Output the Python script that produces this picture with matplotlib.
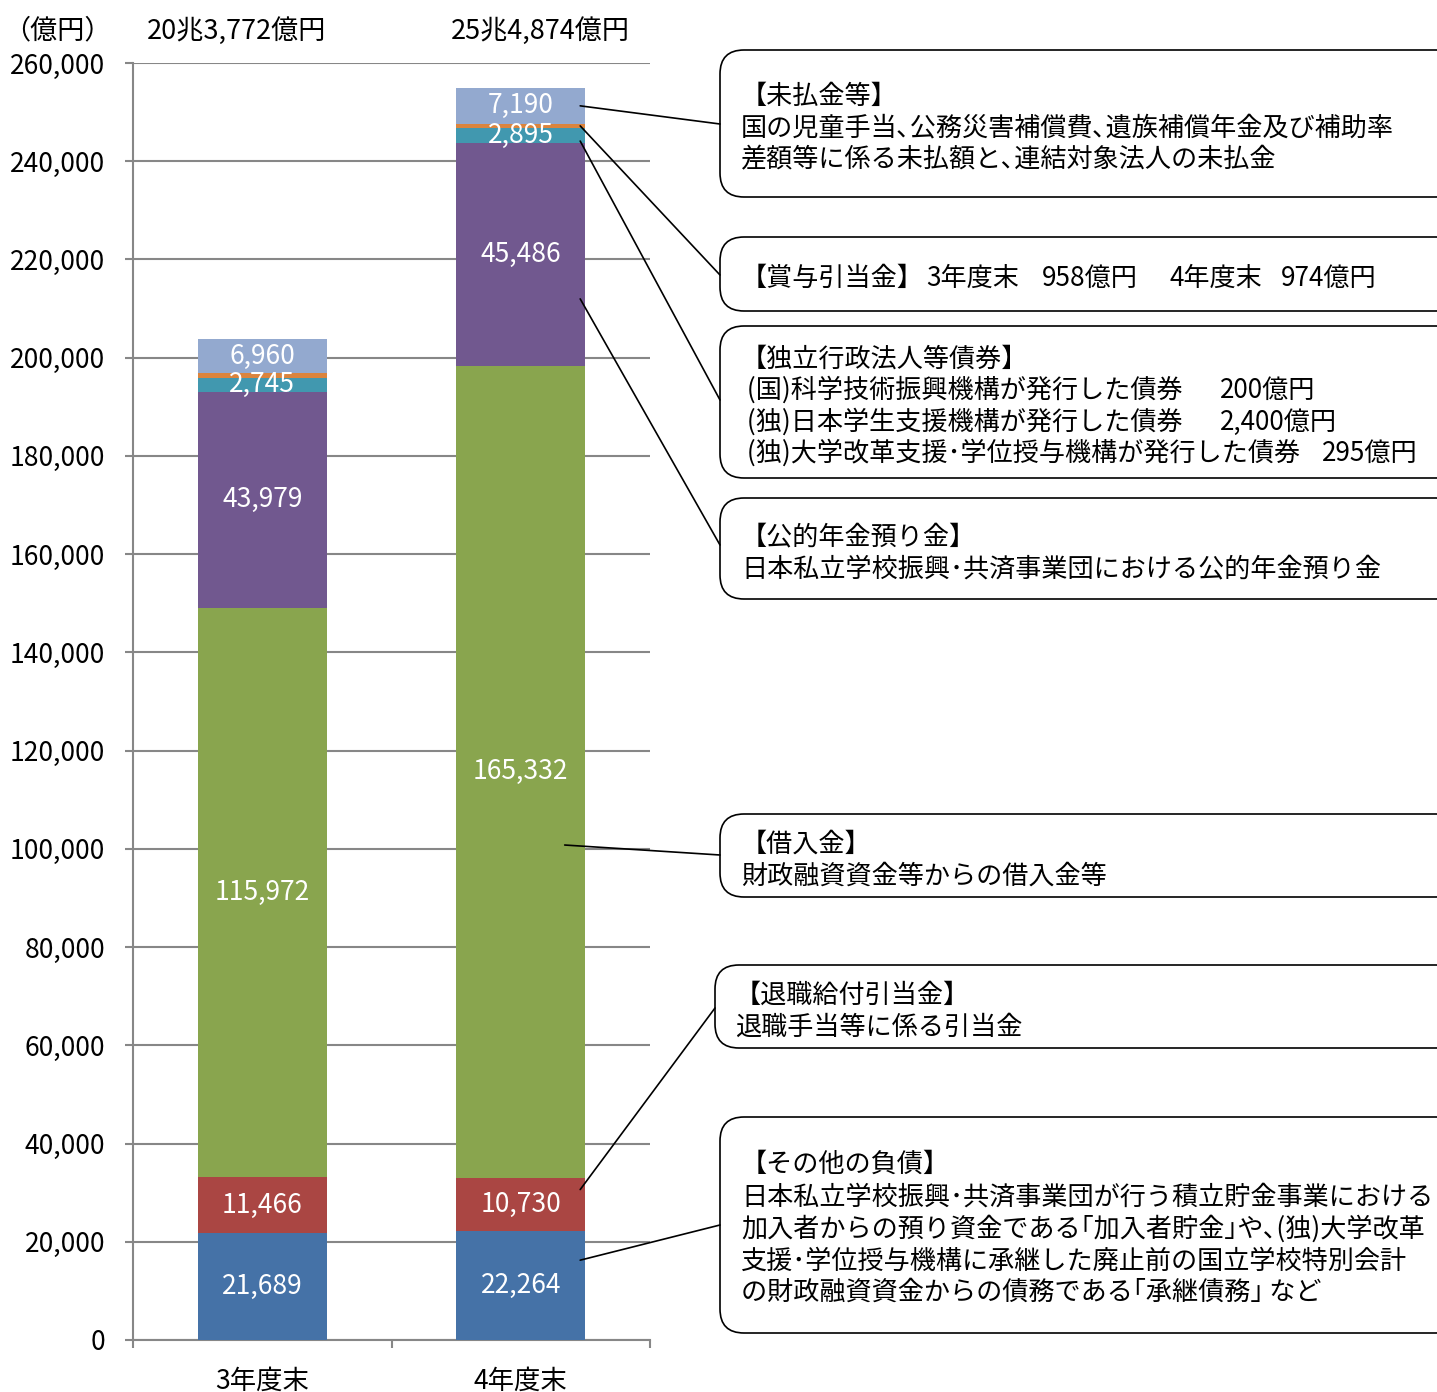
import matplotlib
matplotlib.use('Agg')
import matplotlib.pyplot as plt
from matplotlib.patches import FancyBboxPatch
import numpy as np

plt.rcParams['font.family'] = ['Noto Sans CJK JP', 'DejaVu Sans']

# ---------------- data ----------------
categories = ['3年度末', '4年度末']
series_names = ['その他の負債', '退職給付引当金', '借入金', '公的年金預り金',
                '独立行政法人等債券', '賞与引当金', '未払金等']
other = [21689, 22264]
retire = [11466, 10730]
loans = [115972, 165332]
pension = [43979, 45486]
bonds = [2745, 2895]
bonus = [958, 974]
unpaid = [6960, 7190]
totals_text = ['20兆3,772億円', '25兆4,874億円']
unit_text = '（億円）'
yticks = list(range(0, 260001, 20000))

series = [other, retire, loans, pension, bonds, bonus, unpaid]
colors = ['#4572A7', '#AA4643', '#89A54E', '#71588F', '#4198AF', '#DB843D', '#93A9CF']
show_label = [True, True, True, True, True, False, True]

# ---------------- figure ----------------
W, H = 1437, 1392
fig = plt.figure(figsize=(W / 100, H / 100), dpi=100)
ax = fig.add_axes([133 / W, 52 / H, 517 / W, 1277 / H])
FS = 18.8
GRAY = '#878787'

x = np.arange(len(categories))
bottom = np.zeros(len(categories))
bottoms = []
for vals, col, lab in zip(series, colors, show_label):
    vals = np.array(vals, dtype=float)
    ax.bar(x, vals, bottom=bottom, width=0.5, color=col, zorder=3)
    bottoms.append(bottom.copy())
    if lab:
        for xi, b, v in zip(x, bottom, vals):
            ax.text(xi, b + v / 2, f'{int(v):,}', ha='center', va='center',
                    color='white', fontsize=19, zorder=4)
    bottom = bottom + vals

ax.set_xlim(-0.5, 1.5)
ax.set_ylim(0, 260000)
ax.set_yticks(yticks)
ax.set_yticklabels([f'{v:,}' for v in yticks], fontsize=19)
ax.yaxis.grid(True, color=GRAY, lw=1.5)
ax.set_axisbelow(True)
for s in ['top', 'right']:
    ax.spines[s].set_visible(False)
for s in ['left', 'bottom']:
    ax.spines[s].set_color(GRAY)
    ax.spines[s].set_linewidth(1.5)
ax.set_xticks(x)
ax.set_xticklabels(categories, fontsize=19)
ax.set_xticks([-0.5, 0.5, 1.5], minor=True)
ax.tick_params(axis='x', which='major', length=0, pad=20)
ax.tick_params(axis='x', which='minor', length=6, color=GRAY, width=1.5)
ax.tick_params(axis='y', length=6, color=GRAY, width=1.5, pad=14)

# ---------------- overlay in pixel coords ----------------
ov = fig.add_axes([0, 0, 1, 1], zorder=10)
ov.set_xlim(0, W)
ov.set_ylim(H, 0)
ov.axis('off')
ov.patch.set_alpha(0)

ov.text(57, 31, unit_text, ha='center', va='center', fontsize=19.5)
ov.text(237, 31, totals_text[0], ha='center', va='center', fontsize=19.5)
ov.text(540, 31, totals_text[1], ha='center', va='center', fontsize=19.5)

def box(x0, y0, x1, y1):
    p = FancyBboxPatch((x0, y0), x1 - x0, y1 - y0,
                       boxstyle='round,pad=0,rounding_size=24',
                       fc='white', ec='black', lw=1.2)
    ov.add_patch(p)

boxes = [
    (720, 50, 1460, 197),
    (720, 237, 1460, 311),
    (720, 326, 1460, 478),
    (720, 498, 1460, 599),
    (720, 814, 1460, 897),
    (715, 965, 1460, 1048),
    (720, 1117, 1460, 1333),
]
for b in boxes:
    box(*b)

DY = 2

def lines(xs, ys, texts):
    for yy, t in zip(ys, texts):
        ov.text(xs, yy + DY, t, ha='left', va='center', fontsize=FS)

def word(xx, yy, t):
    ov.text(xx, yy + DY, t, ha='left', va='center', fontsize=FS)

lines(741, [94, 126, 158], ['【未払金等】',
                            '国の児童手当､公務災害補償費､遺族補償年金及び補助率',
                            '差額等に係る未払額と､連結対象法人の未払金'])
lines(741, [276], ['【賞与引当金】'])
word(926, 276, '3年度末')
word(1042, 276, '958億円')
word(1170, 276, '4年度末')
word(1281, 276, '974億円')

lines(741, [357, 388, 420, 451], ['【独立行政法人等債券】',
                                  ' (国)科学技術振興機構が発行した債券',
                                  ' (独)日本学生支援機構が発行した債券',
                                  ' (独)大学改革支援･学位授与機構が発行した債券'])
word(1220, 388, '200億円')
word(1220, 420, '2,400億円')
word(1322, 451, '295億円')

lines(741, [535, 567], ['【公的年金預り金】',
                        '日本私立学校振興･共済事業団における公的年金預り金'])
lines(741, [842, 874], ['【借入金】', '財政融資資金等からの借入金等'])
lines(735, [993, 1025], ['【退職給付引当金】', '退職手当等に係る引当金'])
lines(741, [1162, 1195, 1227, 1259, 1290],
      ['【その他の負債】',
       '日本私立学校振興･共済事業団が行う積立貯金事業における',
       '加入者からの預り資金である｢加入者貯金｣や､(独)大学改革',
       '支援･学位授与機構に承継した廃止前の国立学校特別会計',
       'の財政融資資金からの債務である｢承継債務｣ など'])

# leader lines: from segments of the second bar to boxes
idx = 1
def seg_y(k, frac):
    return bottoms[k][idx] + series[k][idx] * frac

leaders = [
    (6, 0.5, 1.23, (720, 124)),
    (5, 0.5, 1.23, (720, 275)),
    (4, 0.1, 1.23, (720, 400)),
    (3, 0.3, 1.23, (720, 545)),
    (2, 0.41, 1.17, (720, 855)),
    (1, 0.78, 1.23, (715, 1008)),
    (0, 0.73, 1.23, (720, 1225)),
]
for k, frac, xd, end in leaders:
    ov.annotate('', xy=(xd, seg_y(k, frac)), xycoords=ax.transData,
                xytext=end, textcoords='data',
                arrowprops=dict(arrowstyle='-', color='black', lw=1.2,
                                shrinkA=0, shrinkB=0))

fig.savefig('out.png', dpi=100)
